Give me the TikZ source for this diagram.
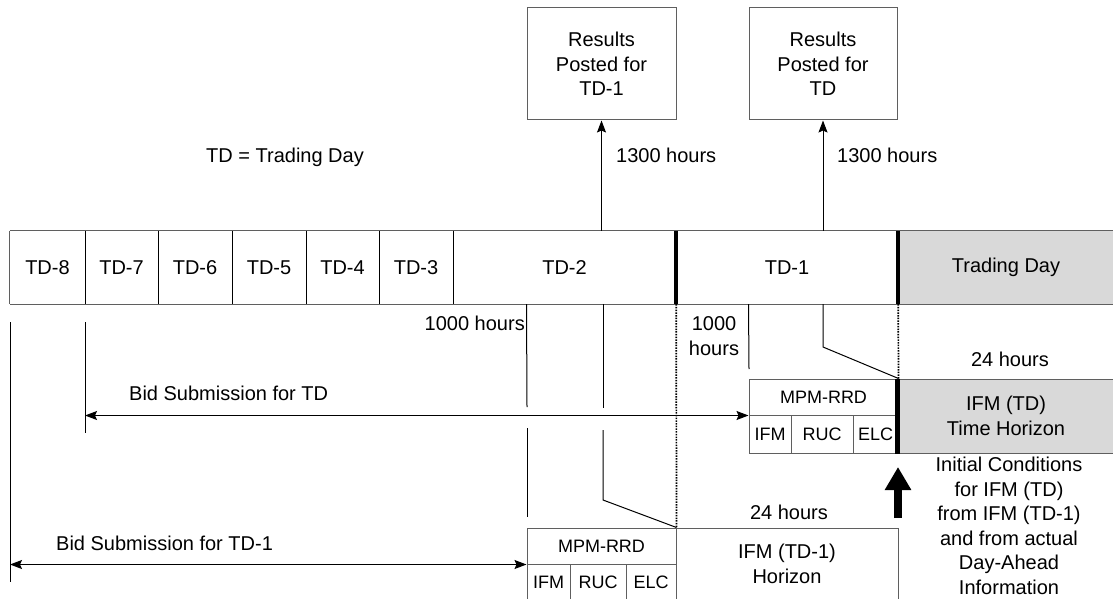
\documentclass[tikz,border=0pt]{standalone}
\usepackage{fontspec}
\setmainfont{Liberation Sans}
\usetikzlibrary{arrows.meta}
\definecolor{rim}{HTML}{5F5F5F}
\definecolor{shade}{HTML}{D9D9D9}

\begin{document}
\begin{tikzpicture}[x=1pt,y=-1pt,
  big/.style={font=\fontsize{20}{24.5}\selectfont, inner sep=0pt},
  small/.style={font=\fontsize{18}{22}\selectfont, inner sep=0pt},
  cell/.style={big, minimum height=73pt},
  box/.style={draw=rim, line width=1pt, inner sep=0pt, align=center},
  link/.style={line width=1pt},
  arr/.style={link, -{Stealth[length=12pt,width=9pt,inset=2pt]}},
  biarr/.style={link, {Stealth[length=12pt,width=9pt,inset=2pt]}-{Stealth[length=12pt,width=9pt,inset=2pt]}},
  guide/.style={line width=1.7pt, dash pattern=on 1.5pt off 1.2pt},
  bar/.style={line width=4.5pt},
]
\useasboundingbox (0,0) rectangle (1113,599);

% ---- timeline of days ----
\node[cell, minimum width=75pt]  (td8) at (47.5,267.5) {TD-8};
\node[cell, minimum width=73pt]  (td7) at (121.5,267.5) {TD-7};
\node[cell, minimum width=74pt]  (td6) at (195,267.5) {TD-6};
\node[cell, minimum width=74pt]  (td5) at (269,267.5) {TD-5};
\node[cell, minimum width=73pt]  (td4) at (342.5,267.5) {TD-4};
\node[cell, minimum width=74pt]  (td3) at (416,267.5) {TD-3};
\node[cell, minimum width=223pt] (td2) at (564.5,267.5) {TD-2};
\node[cell, minimum width=222pt] (td1) at (787,267.5) {TD-1};
\node[cell, fill=shade, minimum width=216pt] (tday) at (1006,267.5) {Trading Day};
\draw[rim, line width=1.2pt] (td8.north west) -- (tday.north east);
\draw[rim, line width=1.2pt] (td8.south west) -- (tday.south east);
\draw[rim, line width=1.2pt] (td8.north west) -- (td8.south west);
\foreach \c in {td8,td7,td6,td5,td4,td3}
  \draw[link] (\c.north east) -- (\c.south east);
\draw[bar] (td2.north east) -- (td2.south east);
\draw[bar] (td1.north east) -- (td1.south east);

% ---- posting of results ----
\node[box, big, minimum width=149pt, minimum height=112pt] (r1) at (601.5,64) {Results\\Posted for\\TD-1};
\node[box, big, minimum width=148pt, minimum height=112pt] (r2) at (823,64) {Results\\Posted for\\TD};
\draw[arr] (r1.south |- td2.north) -- (r1.south);
\draw[arr] (r2.south |- td1.north) -- (r2.south);
\node[big] (tdkey) at (285,157) {TD = Trading Day};
\node[big, anchor=west] (h13a) at (616,155) {1300 hours};
\node[big, anchor=west] (h13b) at (837,155) {1300 hours};

% ---- market runs for TD ----
\node[box, small, minimum width=149pt, minimum height=36pt] (mpmA) at (823.5,397) {MPM-RRD};
\node[box, small, minimum width=42pt, minimum height=38pt] (ifmA) at (770,434) {IFM};
\node[box, small, minimum width=62pt, minimum height=38pt] (rucA) at (822,434) {RUC};
\node[box, small, minimum width=45pt, minimum height=38pt] (elcA) at (875.5,434) {ELC};
\node[box, big, fill=shade, minimum width=216pt, minimum height=74pt] (ifmTD) at (1006,416) {IFM (TD)\\Time Horizon};
\draw[bar] (ifmTD.north west) -- (ifmTD.south west);

% ---- market runs for TD-1 ----
\node[box, small, minimum width=149pt, minimum height=36pt] (mpmB) at (601.5,546) {MPM-RRD};
\node[box, small, minimum width=43pt, minimum height=36pt] (ifmB) at (548.5,582) {IFM};
\node[box, small, minimum width=56pt, minimum height=36pt] (rucB) at (598,582) {RUC};
\node[box, small, minimum width=50pt, minimum height=36pt] (elcB) at (651,582) {ELC};
\node[box, big, minimum width=222pt, minimum height=72pt] (ifm1) at (787,564) {IFM (TD-1)\\Horizon};

% ---- bid submission windows ----
\coordinate (v0a) at (10,322);
\coordinate (v0b) at (10,582);
\coordinate (v7a) at (85,322);
\coordinate (v7b) at (85,433);
\draw[link] (v0a) -- (v0b);
\draw[link] (v7a) -- (v7b);
\draw[biarr] (v7a |- mpmA.south west) -- (mpmA.south west);
\draw[biarr] (v0a |- mpmB.south west) -- (mpmB.south west);
\node[big, anchor=west] (bidA) at (129,393) {Bid Submission for TD};
\node[big, anchor=west] (bidB) at (56,543) {Bid Submission for TD-1};

% ---- time markers for TD-1 ----
\coordinate (g1) at (527,407);
\coordinate (g2) at (527,428);
\coordinate (g3) at (527,517);
\draw[link] (mpmB.north west |- td2.south) -- (g1);
\draw[link] (g2) -- (g3);
\coordinate (h1) at (603,408);
\coordinate (h2) at (603,430);
\coordinate (h3) at (603,500);
\draw[link] (h1 |- td2.south) -- (h1);
\draw[link] (h2) -- (h3) -- (mpmB.north east);
\draw[guide] (td2.south east) -- (mpmB.north east);
\node[big, anchor=east] (h10a) at (525,323) {1000 hours};
\node[big] (h24b) at (789,512) {24 hours};

% ---- time markers for TD ----
\coordinate (k1) at (749,369);
\draw[link] (mpmA.north west |- td1.south) -- (k1);
\coordinate (m1) at (823,347);
\draw[link] (m1 |- td1.south) -- (m1) -- (mpmA.north east);
\draw[guide] (td1.south east) -- (mpmA.north east);
\node[big, align=center] (h10b) at (714,336) {1000\\hours};
\node[big] (h24a) at (1010,359) {24 hours};

% ---- hand-over of initial conditions ----
\coordinate (up0) at (898,518);
\coordinate (up1) at (898,467);
\draw[line width=8pt, -{Triangle[length=23pt,width=25pt]}] (up0) -- (up1);
\node[big, align=center] (init) at (1009,526) {Initial Conditions\\for IFM (TD)\\from IFM (TD-1)\\and from actual\\Day-Ahead\\Information};
\end{tikzpicture}
\end{document}
